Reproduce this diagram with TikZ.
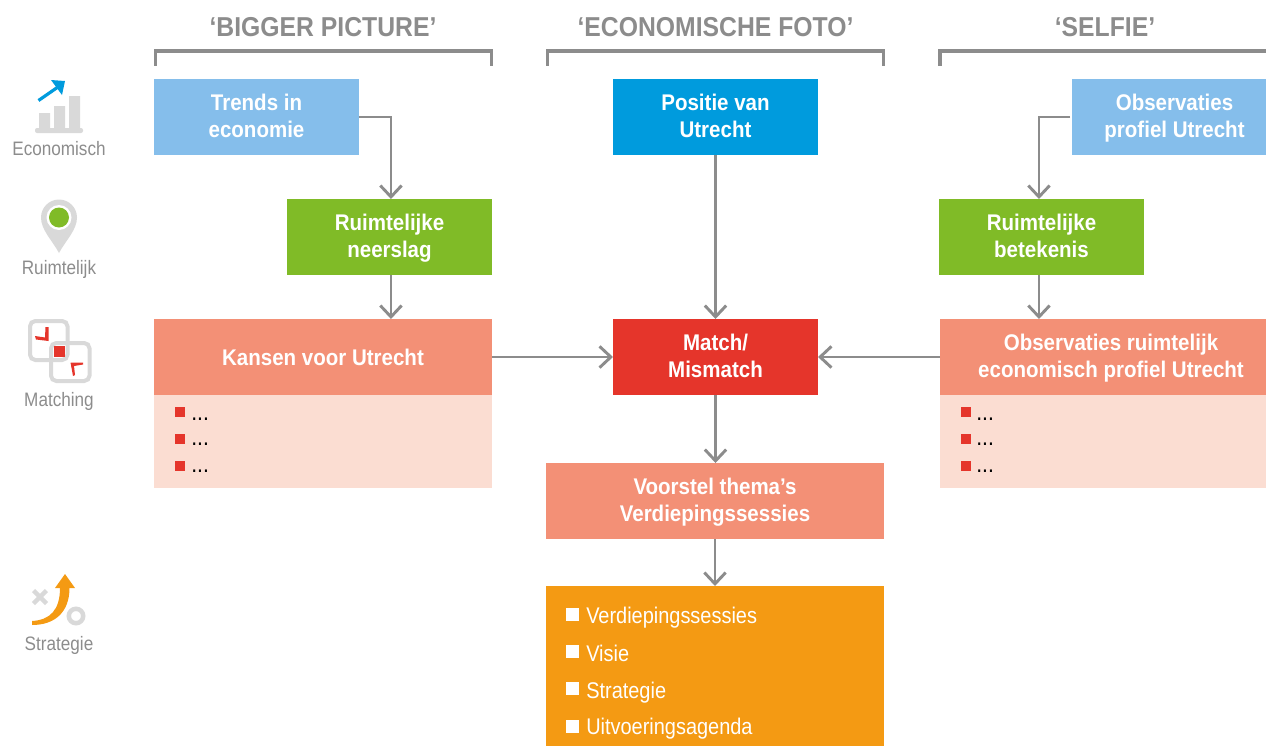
\documentclass[tikz,border=0pt]{standalone}
\usepackage{fontspec}
\setmainfont[FakeStretch=0.88, BoldFeatures={FakeStretch=0.905}]{Liberation Sans}
\usetikzlibrary{arrows.meta}

\definecolor{lichtblauw}{HTML}{85BEEB}
\definecolor{blauw}{HTML}{009BDD}
\definecolor{groen}{HTML}{80BB27}
\definecolor{zalm}{HTML}{F39076}
\definecolor{rood}{HTML}{E5352B}
\definecolor{bleek}{HTML}{FBDDD2}
\definecolor{oranje}{HTML}{F49A13}
\definecolor{lijngrijs}{HTML}{8C8C8C}
\definecolor{icoongrijs}{HTML}{D9D9D9}

\tikzset{
  blok/.style={inner sep=0pt, outer sep=0pt, align=center, text=white, text depth=1.5pt,
    font=\fontsize{17}{20.25}\selectfont\bfseries},
  smal/.style={blok, minimum width=153.75pt, minimum height=57pt},
  breed/.style={blok, minimum width=253.5pt, minimum height=57pt},
  vlak/.style={inner sep=0pt, outer sep=0pt},
  titel/.style={anchor=base, text=lijngrijs, font=\fontsize{20.5}{24}\selectfont\bfseries},
  haak/.style={draw=lijngrijs, line width=2.6pt},
  pijl/.style={draw=lijngrijs, line width=2.2pt,
    -{Straight Barb[length=8.5pt, width=16pt, line width=2.2pt]}},
  icoonlabel/.style={anchor=base, text=lijngrijs, font=\fontsize{14.6}{16}\selectfont},
  stip/.style={vlak, fill=rood, minimum size=7.5pt},
  witstip/.style={vlak, fill=white, minimum size=9.75pt},
  puntjes/.style={anchor=base west, inner sep=0pt, font=\fontsize{18}{20}\selectfont},
  lijst/.style={anchor=base west, inner sep=0pt, text=white, font=\fontsize{17}{20}\selectfont},
}

\begin{document}
\begin{tikzpicture}[x=0.75pt, y=-0.75pt]
  \useasboundingbox (0, 0) rectangle (1266, 746);
  \clip (0, 0) rectangle (1266, 746);

  % Titels met haken
  \node[titel] (bigger) at (323, 36.7) {‘BIGGER PICTURE’};
  \node[titel] (foto) at (715.5, 36.7) {‘ECONOMISCHE FOTO’};
  \node[titel] (selfie) at (1105, 36.7) {‘SELFIE’};
  \draw[haak] (155.7, 65.5) -- (155.7, 51) -- (491.3, 51) -- (491.3, 65.5);
  \draw[haak] (547.7, 65.5) -- (547.7, 51) -- (883.3, 51) -- (883.3, 65.5);
  \draw[haak] (940, 65.5) -- (940, 51) -- (1270, 51);

  % Blokken
  \node[smal, fill=lichtblauw] (trends) at (256.5, 117) {Trends in\\economie};
  \node[smal, fill=blauw] (positie) at (715.5, 117) {Positie van\\Utrecht};
  \node[smal, fill=lichtblauw] (profiel) at (1174.5, 117) {Observaties\\profiel Utrecht};
  \node[smal, fill=groen] (neerslag) at (389.5, 237) {Ruimtelijke\\neerslag};
  \node[smal, fill=groen] (betekenis) at (1041.5, 237) {Ruimtelijke\\betekenis};
  \node[breed, fill=zalm, text height=14.5pt] (kansen) at (323, 357) {Kansen voor Utrecht};
  \node[smal, fill=rood] (match) at (715.5, 357) {Match/\\Mismatch};
  \node[blok, fill=zalm, minimum width=256.5pt, minimum height=57pt] (ruimtelijk) at (1111, 357)
    {Observaties ruimtelijk\\economisch profiel Utrecht};
  \node[breed, fill=zalm] (voorstel) at (715, 501) {Voorstel thema’s\\Verdiepingssessies};

  % Lijstvlakken
  \node[vlak, fill=bleek, minimum width=253.5pt, minimum height=69.75pt] (kansenlijst) at (323, 441.5) {};
  \node[vlak, fill=bleek, minimum width=256.5pt, minimum height=69.75pt] (ruimtelijklijst) at (1111, 441.5) {};
  \node[vlak, fill=oranje, minimum width=253.5pt, minimum height=120pt] (sessies) at (715, 666) {};

  \foreach \naam/\py/\by in {a/412/420, b/439/445.5, c/465.5/472} {
    \node[stip] (links\naam) at (180, \py) {};
    \node[puntjes] (linkstekst\naam) at (191, \by) {...};
    \node[stip] (rechts\naam) at (966, \py) {};
    \node[puntjes] (rechtstekst\naam) at (976, \by) {...};
  }

  \node[witstip] (stipa) at (572.5, 614.5) {};
  \node[lijst] (verdieping) at (586, 623) {Verdiepingssessies};
  \node[witstip] (stipb) at (572.5, 651.5) {};
  \node[lijst] (visie) at (586, 661) {Visie};
  \node[witstip] (stipc) at (572.5, 688.5) {};
  \node[lijst] (strategie) at (586, 698) {Strategie};
  \node[witstip] (stipd) at (572.5, 726.5) {};
  \node[lijst] (agenda) at (586, 734) {Uitvoeringsagenda};

  % Pijlen
  \draw[pijl] (trends.east) -| ([xshift=1.1pt]neerslag.north);
  \draw[pijl] ([xshift=1.1pt]neerslag.south) -- ([xshift=1.1pt]neerslag.south |- kansen.north);
  \draw[pijl] (positie) -- (match);
  \draw[pijl] ([xshift=-1.5pt]profiel.west) -| ([xshift=-1.9pt]betekenis.north);
  \draw[pijl] ([xshift=-1.9pt]betekenis.south) -- ([xshift=-1.9pt]betekenis.south |- ruimtelijk.north);
  \draw[pijl] (kansen.east) -- (match.west);
  \draw[pijl] (ruimtelijk.west) -- (match.east);
  \draw[pijl] (match) -- (match |- voorstel.north);
  \draw[pijl] (voorstel.south) -- (voorstel.south |- sessies.north);

  % Icoon economisch
  \fill[icoongrijs] (39, 113) rectangle (50, 129) (54, 106) rectangle (65, 129) (69, 96) rectangle (80, 129);
  \fill[icoongrijs, rounded corners=1.5pt] (35, 128) rectangle (83, 133);
  \draw[blauw, line width=2.4pt] (38.5, 100.5) -- (58, 87);
  \fill[blauw] (65, 81) -- (51, 80) -- (62, 95) -- cycle;
  \node[icoonlabel] (economisch) at (59, 155.5) {Economisch};

  % Icoon ruimtelijk
  \fill[icoongrijs] (59, 253) .. controls (52, 240) and (41, 230) .. (41, 217.5)
    arc[start angle=180, end angle=360, radius=18] .. controls (77, 230) and (66, 240) .. (59, 253) -- cycle;
  \fill[white] (59, 217.5) circle[radius=12.5];
  \fill[groen] (59, 217.5) circle[radius=10];
  \node[icoonlabel] (ruimtelabel) at (59, 274.5) {Ruimtelijk};

  % Icoon matching
  \draw[icoongrijs, line width=3pt, rounded corners=4pt] (30, 321) rectangle (67.5, 360);
  \draw[icoongrijs, line width=3pt, rounded corners=4pt] (51, 343) rectangle (89.5, 381);
  \fill[rood] (54, 346) rectangle (64.5, 357);
  \fill[rood] (35, 336) -- (45, 337.5) -- (45.5, 327) -- (48.5, 327) -- (48.5, 341) -- (36, 339.5) -- cycle;
  \fill[rood] (83, 362.5) -- (70.5, 362.5) -- (73, 376) -- (75, 375) -- (74, 366) -- (83, 364.5) -- cycle;
  \node[icoonlabel] (matchlabel) at (59, 406) {Matching};

  % Icoon strategie
  \draw[icoongrijs, line width=3.4pt] (33.5, 590.5) -- (46.5, 603.5) (46.5, 590.5) -- (33.5, 603.5);
  \draw[icoongrijs, line width=3.4pt] (76, 616) circle[radius=7.2];
  \fill[oranje] (32, 621) .. controls (50, 620) and (60, 610) .. (60, 588) -- (69.5, 588)
    .. controls (69.5, 612) and (55, 625) .. (32, 625) -- cycle;
  \fill[oranje] (55, 588) -- (75, 588) -- (65, 574) -- cycle;
  \node[icoonlabel] (stratlabel) at (59, 650.5) {Strategie};
\end{tikzpicture}
\end{document}
